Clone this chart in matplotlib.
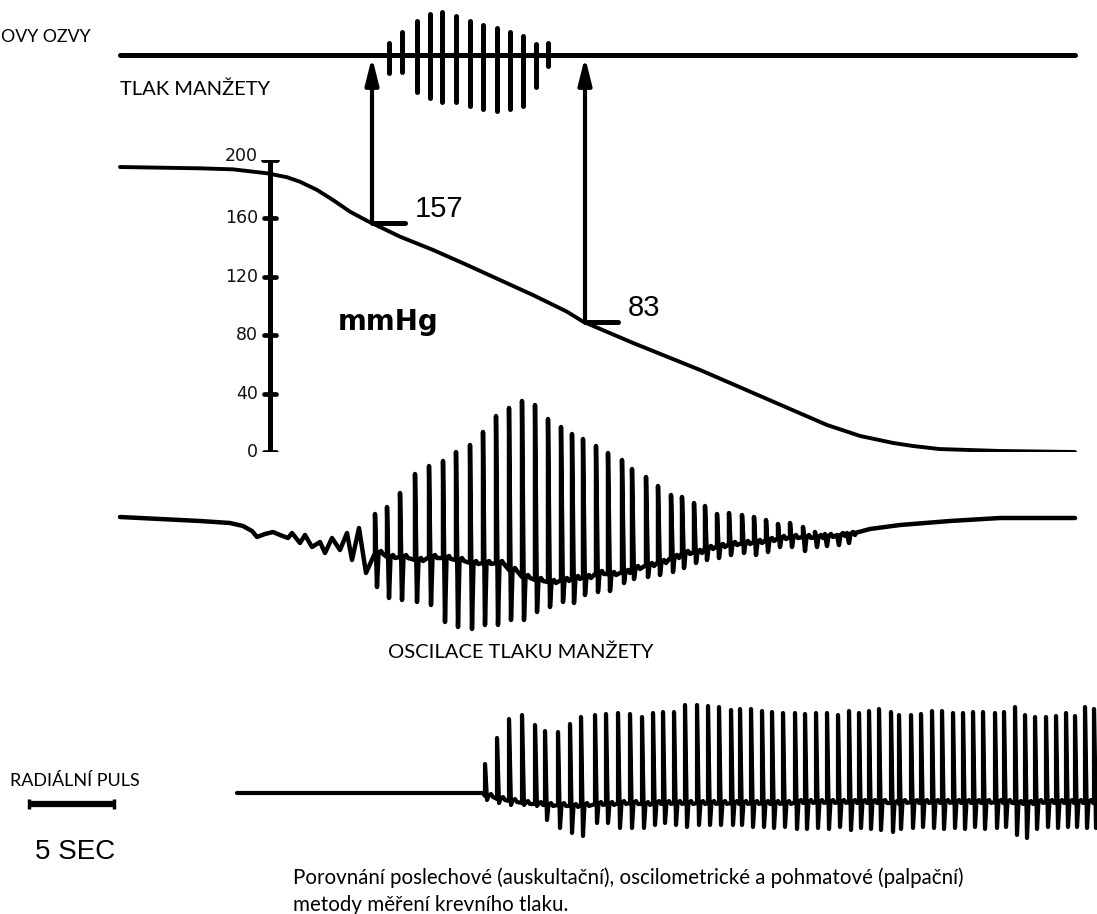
import numpy as np
import matplotlib
matplotlib.use('Agg')
import matplotlib.pyplot as plt

W, H = 1097, 914

# cuff pressure: x along the time axis (px), pressure in mmHg
cuff_x = [120, 200, 233, 267, 287, 300, 317, 333, 350, 367, 400, 433, 467, 500,
          533, 567, 583, 633, 700, 760, 827, 860, 893, 913, 940, 1000, 1075]
cuff_mmhg = [195.2, 194.3, 193.6, 190.9, 188.2, 185.1, 179.5, 172.6, 164.6, 158.4,
             147.5, 138.4, 128.1, 117.8, 107.5, 96.1, 89.3, 74.7, 56.2, 38.4, 18.5,
             11.0, 6.2, 4.1, 2.0, 0.7, 0.0]
scale_ticks = [0, 40, 80, 120, 160, 200]
systolic, diastolic = 157, 83
sys_x, dia_x = 372, 585

# korotkoff sounds (tones on the cuff line)
sound_x = [389, 402, 417, 430, 442, 456, 470, 483, 497, 510, 523, 536, 548]
sound_top = [43, 32, 21, 14, 12, 16, 21, 25, 28, 32, 36, 44, 43]
sound_bot = [73, 72, 92, 98, 102, 102, 106, 109, 111, 109, 106, 87, 66]

# cuff pressure oscillations
osc_lead_x = [120, 160, 200, 230, 243, 252, 257, 265, 273, 280, 288, 292, 300, 305,
              312, 320, 325, 332, 340, 347, 352, 359, 366]
osc_lead_y = [517, 519, 521, 523, 526, 531, 537, 534, 532, 535, 538, 533, 543, 535,
              547, 542, 553, 538, 550, 533, 560, 528, 573]
osc_x = [375, 387, 400, 415, 429, 443, 456, 470, 483, 496, 509, 522, 535, 548, 561,
         572, 583, 596, 608, 622, 632, 646, 658, 671, 682, 694, 705, 717, 729, 742,
         754, 766, 778, 790, 803, 815, 825, 837, 847]
osc_top = [514, 507, 493, 474, 466, 461, 452, 445, 432, 416, 408, 401, 405, 419, 427,
           434, 439, 446, 453, 460, 469, 477, 486, 495, 497, 503, 506, 514, 513, 515,
           517, 520, 524, 523, 527, 532, 534, 535, 533]
osc_bot = [587, 598, 600, 602, 605, 622, 627, 629, 625, 625, 620, 620, 612, 607, 602,
           603, 595, 592, 591, 583, 579, 577, 575, 572, 568, 563, 560, 558, 555, 553,
           555, 552, 547, 547, 551, 547, 546, 545, 543]
osc_mid = [553, 557, 557, 560, 557, 558, 560, 563, 563, 563, 570, 577, 580, 582, 580,
           578, 577, 573, 574, 572, 568, 565, 562, 557, 553, 552, 548, 546, 544, 543,
           542, 540, 538, 537, 537, 537, 536, 535, 534]
osc_tail_x = [855, 870, 900, 950, 1000, 1030, 1075]
osc_tail_y = [533, 529, 525, 521, 518, 518, 518]

# radial pulse
rad_lead_x = [237, 483]
rad_lead_y = [793, 793]
rad_x = [485, 497, 509, 522, 535, 545, 558, 570, 581, 595, 606, 618, 630, 642, 653,
         663, 674, 685, 697, 708, 719, 731, 740, 751, 762, 772, 783, 795, 805, 816,
         827, 838, 849, 859, 869, 879, 891, 899, 911, 921, 932, 942, 953, 963, 973,
         983, 995, 1004, 1015, 1025, 1035, 1046, 1056, 1066, 1075, 1085, 1094]
rad_top = [764, 738, 719, 715, 725, 731, 732, 724, 717, 715, 714, 713, 714, 717, 713,
           712, 712, 705, 705, 706, 707, 710, 709, 709, 711, 712, 713, 713, 714, 713,
           713, 715, 711, 713, 711, 709, 712, 715, 715, 714, 711, 711, 713, 713, 712,
           712, 713, 712, 707, 715, 717, 717, 716, 713, 716, 707, 709]
rad_bot = [800, 803, 805, 805, 806, 820, 828, 833, 836, 823, 823, 828, 828, 828, 825,
           823, 825, 827, 825, 825, 825, 825, 825, 827, 827, 828, 827, 829, 829, 828,
           829, 827, 830, 828, 829, 830, 832, 829, 828, 827, 828, 829, 828, 829, 827,
           829, 828, 827, 835, 838, 829, 827, 828, 827, 827, 828, 828]
rad_mid = [796, 799, 801, 803, 804, 805, 805, 806, 805, 804, 804, 803, 803, 804, 803,
           803, 803, 803, 803, 803, 803, 803, 803, 803, 803, 803, 803, 802, 802, 802,
           802, 802, 802, 802, 802, 802, 803, 802, 802, 802, 802, 802, 802, 802, 802,
           802, 802, 802, 803, 803, 802, 802, 802, 802, 802, 802, 802]

label_font = 'Lato'


def beat_trace(lead_x, lead_y, xs, tops, bots, mids, tail_x, tail_y, back=2):
    px, py = list(lead_x), list(lead_y)
    for x, t, b, m in zip(xs, tops, bots, mids):
        px += [x, x, x + back, x + back + 1.5, x + back + 4, x + back + 6]
        py += [m, t, b, m, m - 2, m + 1]
    px += list(tail_x)
    py += list(tail_y)
    return px, py


fig = plt.figure(figsize=(W / 100, H / 100), dpi=100)
ax = fig.add_axes([0, 0, 1, 1])
ax.set_xlim(0, W)
ax.set_ylim(H, 0)
ax.axis('off')

# pressure axes: 0 mmHg at y=452 px, 200 mmHg at y=160 px
axp = fig.add_axes([0, 1 - 452 / H, 1, 292 / H])
axp.set_xlim(0, W)
axp.set_ylim(0, 200)
axp.axis('off')
axp.patch.set_visible(False)

line_kw = dict(color='black', solid_capstyle='round', solid_joinstyle='round')

# cuff line + sounds
ax.plot([120, 1075], [55, 55], lw=3.6, **line_kw)
ax.vlines(sound_x, sound_top, sound_bot, colors='black', lw=3.6, capstyle='round')

# cuff pressure curve
axp.plot(cuff_x, cuff_mmhg, lw=2.8, **line_kw)

# mmHg scale
axp.plot([270, 270], [0, 200], lw=3.6, solid_capstyle='butt', color='black')
for v in scale_ticks:
    half = 7 if v == 200 else 6
    axp.plot([270 - half, 270 + half], [v, v], lw=3.4, **line_kw)
    dy = 2.5 if v == 200 else 0
    axp.text(258, v + dy, str(v), ha='right', va='center', fontsize=12.5,
             family='DejaVu Sans', color='#111111')
axp.text(388, 89, 'mmHg', ha='center', va='center', fontsize=20, fontweight='bold',
         family='DejaVu Sans')

# systolic / diastolic arrows
for x, lab in [(sys_x, systolic), (dia_x, diastolic)]:
    p = np.interp(x, cuff_x, cuff_mmhg)
    axp.annotate('', xy=(x, 57), xycoords=ax.transData, xytext=(x, p), textcoords='data',
                 arrowprops=dict(arrowstyle='-|>,head_length=0.8,head_width=0.2',
                                 lw=3.0, color='black', mutation_scale=20,
                                 shrinkA=0, shrinkB=0))
    axp.plot([x, x + 33], [p, p], lw=3.6, **line_kw)
    axp.text(x + 43, p + 10, str(lab), ha='left', va='center', fontsize=21,
             family='Liberation Sans')

# oscillations
ox, oy = beat_trace(osc_lead_x, osc_lead_y, osc_x, osc_top, osc_bot, osc_mid,
                    osc_tail_x, osc_tail_y)
ax.plot(ox, oy, lw=3.2, **line_kw)

# radial pulse
rx, ry = beat_trace(rad_lead_x, rad_lead_y, rad_x, rad_top, rad_bot, rad_mid, [], [])
ax.plot(rx, ry, lw=3.0, **line_kw)

# 5 sec bar
ax.plot([28, 114], [804, 804], lw=4.5, solid_capstyle='butt', color='black')
ax.vlines([29, 114], 799, 809, colors='black', lw=2.5)

# texts
ax.text(1, 37, 'OVY OZVY', ha='left', va='center', fontsize=12.8, family=label_font)
ax.text(120, 89, 'TLAK MANŽETY', ha='left', va='center', fontsize=14.5, family=label_font)
ax.text(388, 652, 'OSCILACE TLAKU MANŽETY', ha='left', va='center', fontsize=14.5,
        family=label_font)
ax.text(10, 781, 'RADIÁLNÍ PULS', ha='left', va='center', fontsize=13, family=label_font)
ax.text(35, 852, '5 SEC', ha='left', va='center', fontsize=20, family='Liberation Sans')
ax.text(293, 878, 'Porovnání poslechové (auskultační), oscilometrické a pohmatové (palpační)',
        ha='left', va='center', fontsize=14.8, family=label_font)
ax.text(293, 905, 'metody měření krevního tlaku.', ha='left', va='center', fontsize=14.8,
        family=label_font)

fig.savefig('out.png', dpi=100, facecolor='white')
